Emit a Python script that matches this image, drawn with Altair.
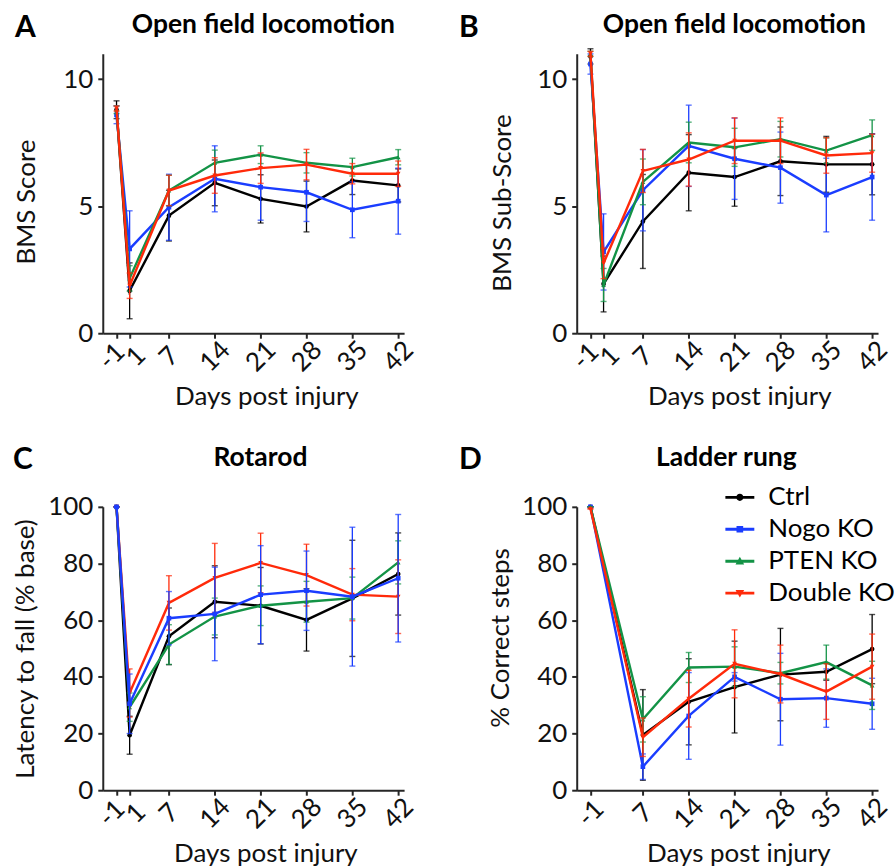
import altair as alt
import pandas as pd

# ---------------- data ----------------
days = [-1, 1, 7, 14, 21, 28, 35, 42]
days_ladder = [-1, 7, 14, 21, 28, 35, 42]
groups = ["Ctrl", "Nogo KO", "PTEN KO", "Double KO"]
colors = ["#000000", "#1a3dff", "#139346", "#ff2a0a"]
shapes = ["circle", "square", "triangle-up", "triangle-down"]

# Panel A: BMS score
bms_ctrl = [8.8, 1.67, 4.63, 5.92, 5.29, 4.99, 6.01, 5.82]
bms_ctrl_err = [0.35, 1.1, 1.0, 0.9, 0.95, 1.0, 0.55, 0.65]
bms_nogo = [8.6, 3.32, 4.96, 6.08, 5.75, 5.55, 4.86, 5.2]
bms_nogo_err = [0.35, 1.5, 1.3, 1.3, 1.3, 1.15, 1.1, 1.3]
bms_pten = [8.8, 2.16, 5.62, 6.71, 7.03, 6.71, 6.54, 6.93]
bms_pten_err = [0.15, 0.5, 0.6, 0.5, 0.35, 0.4, 0.35, 0.3]
bms_dbl = [8.85, 1.87, 5.62, 6.21, 6.5, 6.64, 6.28, 6.28]
bms_dbl_err = [0.1, 0.5, 0.6, 0.7, 0.6, 0.6, 0.4, 0.5]

# Panel B: BMS sub-score
sub_ctrl = [10.9, 1.94, 4.40, 6.32, 6.15, 6.77, 6.65, 6.65]
sub_ctrl_err = [0.3, 1.1, 1.85, 1.5, 1.15, 1.35, 1.1, 1.2]
sub_nogo = [10.6, 3.2, 5.63, 7.38, 6.87, 6.52, 5.44, 6.15]
sub_nogo_err = [0.4, 1.5, 1.6, 1.6, 1.6, 1.4, 1.45, 1.7]
sub_pten = [11.0, 1.90, 5.96, 7.51, 7.32, 7.64, 7.19, 7.80]
sub_pten_err = [0.1, 0.65, 0.9, 0.8, 0.75, 0.7, 0.5, 0.6]
sub_dbl = [11.0, 2.75, 6.39, 6.84, 7.58, 7.58, 7.0, 7.09]
sub_dbl_err = [0.1, 0.6, 0.85, 1.05, 0.9, 0.9, 0.7, 0.75]

# Panel C: Rotarod
rot_ctrl = [100, 19.4, 54.3, 66.5, 65.1, 60.1, 67.7, 76.3]
rot_ctrl_err = [0, 6.7, 10, 12.7, 13.5, 11, 20.5, 14.5]
rot_nogo = [100, 30.5, 60.7, 62.2, 69.0, 70.4, 68.3, 74.8]
rot_nogo_err = [0, 10.5, 9.4, 16.5, 17.3, 14, 24.5, 22.5]
rot_pten = [100, 29.3, 51.4, 61.3, 65.1, 66.5, 67.8, 80.4]
rot_pten_err = [0, 5, 7, 6.5, 7, 7.2, 7.4, 7.6]
rot_dbl = [100, 34.3, 66.1, 74.9, 80.2, 75.9, 69.0, 68.3]
rot_dbl_err = [0, 8.5, 9.6, 12.2, 10.5, 10.9, 9.2, 13]

# Panel D: Ladder rung
lad_ctrl = [100, 19.5, 31.2, 36.4, 40.8, 41.8, 49.8]
lad_ctrl_err = [0, 16, 15.2, 16.2, 16.3, 3, 12.2]
lad_nogo = [100, 8.3, 26.2, 40.0, 32.1, 32.5, 30.5]
lad_nogo_err = [0, 4.5, 15.3, 1.5, 16.2, 10.3, 9]
lad_pten = [100, 25.0, 43.3, 43.6, 41.3, 45.2, 37.0]
lad_pten_err = [0, 8, 5.3, 7, 3.8, 6, 8.5]
lad_dbl = [99.3, 18.7, 32.3, 44.6, 41.0, 34.8, 43.6]
lad_dbl_err = [0, 6.8, 10, 12, 10.2, 9.8, 11.5]

panel_letters = ["A", "B", "C", "D"]
panel_titles = ["Open field locomotion", "Open field locomotion", "Rotarod", "Ladder rung"]
y_titles = ["BMS Score", "BMS Sub-Score", "Latency to fall (% base)", "% Correct steps"]
x_title = "Days post injury"

FONT = "Lato"
W = 302
FS = 26

# legend symbols: a short line with the marker in the middle
legend_paths = [
    "M-1,-0.1L1,-0.1L1,0.1L-1,0.1Z M-0.25,0A0.25,0.25 0 1,1 0.25,0A0.25,0.25 0 1,1 -0.25,0Z",
    "M-1,-0.1L1,-0.1L1,0.1L-1,0.1Z M-0.23,-0.23L0.23,-0.23L0.23,0.23L-0.23,0.23Z",
    "M-1,-0.1L1,-0.1L1,0.1L-1,0.1Z M0,-0.3L0.3,0.22L-0.3,0.22Z",
    "M-1,-0.1L1,-0.1L1,0.1L-1,0.1Z M-0.3,-0.22L0.3,-0.22L0,0.3Z",
]


def panel(idx, xdays, series, ydom, yvals, height, order, geo, legend=False):
    letter = panel_letters[idx]
    title = panel_titles[idx]
    ytitle = y_titles[idx]
    xscale = alt.Scale(domain=[-3.1, 42.9], nice=False, zero=False)
    yscale = alt.Scale(domain=ydom, nice=False, zero=False)
    if 1 in xdays:
        loff = {"condition": [{"test": "datum.value == -1", "value": -5},
                              {"test": "datum.value == 1", "value": 6}], "value": 0}
    else:
        loff = 0
    xaxis = alt.Axis(values=xdays, labelAngle=315, labelAlign="center", labelBaseline="middle",
                     labelExpr="'' + datum.value", labelOffset=loff,
                     labelPadding=geo["lpad"], labelOverlap=False, labelFlush=False,
                     titleX=geo["xtx"], titleY=71, titleBaseline="alphabetic", titleAlign="center")
    yaxis = alt.Axis(values=yvals, labelPadding=5, labelOverlap=False, labelFlush=False,
                     titleX=geo["ytx"], titleY=geo["yty"], titleAngle=270,
                     titleAlign="center", titleBaseline="middle")
    layers = []
    for k in order:
        mean, err = series[k]
        df = pd.DataFrame({
            "day": xdays,
            "mean": mean,
            "lo": [m - e for m, e in zip(mean, err)],
            "hi": [m + e for m, e in zip(mean, err)],
        })
        c = colors[k]
        X = alt.X("day:Q", scale=xscale, axis=xaxis, title=x_title)
        def Y(f):
            return alt.Y(f + ":Q", scale=yscale, axis=yaxis, title=ytitle)
        base = alt.Chart(df)
        layers.append(base.mark_rule(color=c, strokeWidth=1.3).encode(x=X, y=Y("lo"), y2="hi:Q"))
        layers.append(base.mark_tick(color=c, size=6, thickness=1.4, orient="horizontal").encode(x=X, y=Y("lo")))
        layers.append(base.mark_tick(color=c, size=6, thickness=1.4, orient="horizontal").encode(x=X, y=Y("hi")))
        layers.append(base.mark_line(color=c, strokeWidth=2.4).encode(x=X, y=Y("mean")))
        layers.append(base.mark_point(color=c, shape=shapes[k], filled=True, size=22, opacity=1).encode(x=X, y=Y("mean")))

    letter_layer = alt.Chart(pd.DataFrame({"t": [letter]})).mark_text(
        font=FONT, fontWeight="bold", fontSize=30, align="left", baseline="alphabetic", color="#000"
    ).encode(text="t:N", x=alt.value(geo["lx"]), y=alt.value(geo["ly"]))
    title_layer = alt.Chart(pd.DataFrame({"t": [title]})).mark_text(
        font=FONT, fontWeight="bold", fontSize=26.5, align="center", baseline="alphabetic", color="#000"
    ).encode(text="t:N", x=alt.value(geo["tx"]), y=alt.value(geo["ty"]))
    layers += [letter_layer, title_layer]

    if legend:
        leg = alt.Legend(title=None, orient="none", legendX=149, legendY=-24,
                         labelFont=FONT, labelFontSize=FS, labelColor="#000",
                         symbolSize=841, symbolStrokeWidth=0, symbolOpacity=1,
                         labelOffset=14, rowPadding=4, labelBaseline="middle")
        dummy = alt.Chart(pd.DataFrame({"group": groups})).transform_filter("false").mark_point(
            filled=True, opacity=1
        ).encode(
            color=alt.Color("group:N", scale=alt.Scale(domain=groups, range=colors), legend=leg),
            shape=alt.Shape("group:N", scale=alt.Scale(domain=groups, range=legend_paths), legend=leg),
        )
        layers.append(dummy)

    return alt.layer(*layers).properties(width=W, height=height)


A = panel(0, days, [(bms_ctrl, bms_ctrl_err), (bms_nogo, bms_nogo_err), (bms_pten, bms_pten_err), (bms_dbl, bms_dbl_err)],
          [0, 11], [0, 5, 10], 280, [0, 1, 2, 3],
          dict(lpad=18, xtx=164, ytx=-76, yty=148, lx=-88, ly=-17, tx=161, ty=-21))
B = panel(1, days, [(sub_ctrl, sub_ctrl_err), (sub_nogo, sub_nogo_err), (sub_pten, sub_pten_err), (sub_dbl, sub_dbl_err)],
          [0, 11], [0, 5, 10], 280, [0, 1, 2, 3],
          dict(lpad=18, xtx=163, ytx=-74, yty=149, lx=-118, ly=-17, tx=158, ty=-21))
C = panel(2, days, [(rot_ctrl, rot_ctrl_err), (rot_nogo, rot_nogo_err), (rot_pten, rot_pten_err), (rot_dbl, rot_dbl_err)],
          [0, 100], [0, 20, 40, 60, 80, 100], 284, [0, 2, 3, 1],
          dict(lpad=18, xtx=163, ytx=-77, yty=142, lx=-90, ly=-38, tx=158, ty=-41))
D = panel(3, days_ladder, [(lad_ctrl, lad_ctrl_err), (lad_nogo, lad_nogo_err), (lad_pten, lad_pten_err), (lad_dbl, lad_dbl_err)],
          [0, 100], [0, 20, 40, 60, 80, 100], 284, [0, 1, 2, 3],
          dict(lpad=18, xtx=162, ytx=-76, yty=131, lx=-118, ly=-38, tx=150, ty=-41), legend=True)

row1 = alt.hconcat(A, B, spacing=41).resolve_legend(color="independent", shape="independent")
row2 = alt.hconcat(C, D, spacing=41).resolve_legend(color="independent", shape="independent")

chart = alt.vconcat(row1, row2, spacing=36).resolve_legend(
    color="independent", shape="independent"
).configure(
    padding={"left": 13, "top": 11, "right": 0, "bottom": 0},
    font=FONT,
).configure_view(
    stroke=None
).configure_axis(
    grid=False,
    domainColor="#262626", domainWidth=2,
    tickColor="#262626", tickWidth=2, tickSize=5,
    labelFont=FONT, labelFontSize=FS, labelColor="#111",
    titleFont=FONT, titleFontSize=FS, titleFontWeight="normal", titleColor="#111",
)

chart.save("out.html", embed_options={"renderer": "svg", "actions": False})
